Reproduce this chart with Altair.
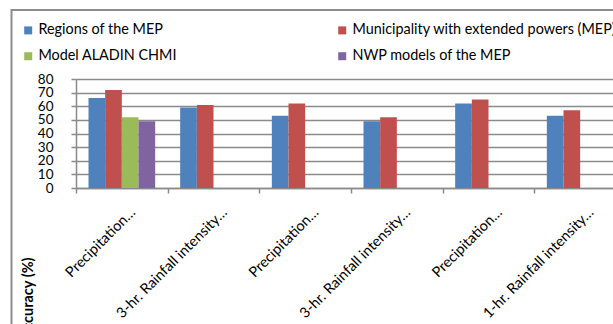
import altair as alt
import pandas as pd

categories = ["Precipitation…", "3-hr. Rainfall intensity…", "Precipitation…",
              "3-hr. Rainfall intensity…", "Precipitation…", "1-hr. Rainfall intensity…"]
series = ["Regions of the MEP", "Municipality with extended powers (MEP)",
          "Model ALADIN CHMI", "NWP models of the MEP"]
colors = ["#4F81BD", "#C0504D", "#9BBB59", "#8064A2"]
regions_mep = [66, 59, 53, 49, 62, 53]
municipality_mep = [72, 61, 62, 52, 65, 57]
aladin_chmi = [52, None, None, None, None, None]
nwp_mep = [49, None, None, None, None, None]
y_ticks = [0, 10, 20, 30, 40, 50, 60, 70, 80]

keys = [f"c{i}" for i in range(len(categories))]
rows = []
for i, k in enumerate(keys):
    for s, vals in zip(series, [regions_mep, municipality_mep, aladin_chmi, nwp_mep]):
        if vals[i] is not None:
            rows.append({"key": k, "series": s, "value": vals[i]})
df = pd.DataFrame(rows)

label_expr = ("[" + ",".join(f"'{c}'" for c in categories) + "][indexof(["
              + ",".join(f"'{k}'" for k in keys) + "], datum.value)]")

GRAY = "#8a8a8a"
FONT = "Lato"

bars = alt.Chart(df).mark_bar().encode(
    x=alt.X("key:N", sort=keys,
            scale=alt.Scale(domain=keys, range=[0, 550], paddingInner=0, paddingOuter=0),
            axis=alt.Axis(title=None, labelExpr=label_expr, labelAngle=-45,
                          labelAlign="right", labelBaseline="middle",
                          labelOffset=11, labelPadding=17, tickBand="extent",
                          tickSize=5, domainColor=GRAY, tickColor=GRAY,
                          domainWidth=1.5, tickWidth=1.5,
                          labelFont=FONT, labelFontSize=14.5, labelColor="#000000",
                          grid=False, labelLimit=400, labelOverlap=False)),
    xOffset=alt.XOffset("series:N", sort=series,
                        scale=alt.Scale(domain=series, paddingInner=0, paddingOuter=0.75)),
    y=alt.Y("value:Q", scale=alt.Scale(domain=[0, 80], nice=False),
            axis=alt.Axis(values=y_ticks, title="Accuracy (%)", titleFont=FONT,
                          titleFontWeight="bold", titleFontSize=14.5, titleAngle=-90,
                          titleX=-47.5, titleY=178, titleAlign="right",
                          titleBaseline="middle", titleColor="#000000",
                          labelFont=FONT, labelFontSize=13.5, labelColor="#000000",
                          labelPadding=18, tickSize=5, tickColor=GRAY, tickWidth=1.5,
                          domainColor=GRAY, domainWidth=1.5, labelOverlap=False,
                          grid=True, gridColor=GRAY, gridWidth=1.5)),
    color=alt.Color("series:N", sort=series,
                    scale=alt.Scale(domain=series, range=colors),
                    legend=alt.Legend(title=None, orient="none", legendX=-55, legendY=-56,
                                      direction="horizontal", columns=2,
                                      symbolType="square", symbolSize=64,
                                      symbolStrokeWidth=0, labelFont=FONT, labelFontSize=14.4,
                                      labelColor="#000000", labelOffset=3, rowPadding=11,
                                      columnPadding=158, padding=0, labelLimit=400)),
)

frame = alt.Chart(alt.Data(values=[{}])).mark_rect(
    fill="transparent", stroke="#8c8c8c", strokeWidth=2
).encode(
    x=alt.value(-64.5), y=alt.value(-69), x2=alt.value(700), y2=alt.value(400)
)

chart = alt.layer(frame, bars).properties(
    width=537, height=109,
    autosize=alt.AutoSizeParams(type="none"),
    padding={"left": 76, "top": 79, "right": 0, "bottom": 136},
    background="white",
).configure_view(stroke="transparent")

chart.save("out.html", embed_options={"renderer": "svg", "actions": False})
